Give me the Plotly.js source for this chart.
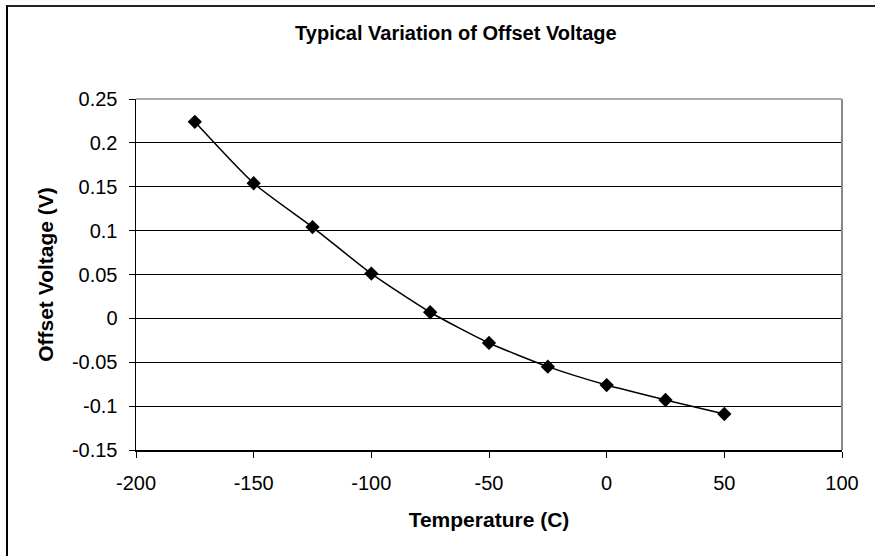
<!DOCTYPE html>
<html>
<head>
<meta charset="utf-8">
<script src="https://cdn.plot.ly/plotly-3.0.1.min.js"></script>
<style>
html,body{margin:0;padding:0;background:#fff;}
#wrap{position:relative;width:875px;height:556px;overflow:hidden;}
#chart{position:absolute;left:0;top:0;width:875px;height:556px;}
#frame{position:absolute;left:6px;top:5px;width:875px;height:556px;border-left:2px solid #000;border-top:2px solid #222;pointer-events:none;}
</style>
</head>
<body>
<div id="wrap"><div id="chart"></div><div id="frame"></div></div>
<script>
const temperature = [-175, -150, -125, -100, -75, -50, -25, 0, 25, 50];
const offsetVoltage = [0.224, 0.154, 0.104, 0.051, 0.007, -0.028, -0.055, -0.076, -0.093, -0.109];
const xTickVals = [-200, -150, -100, -50, 0, 50, 100];
const xTickText = ["-200", "-150", "-100", "-50", "0", "50", "100"];
const yTickVals = [-0.15, -0.1, -0.05, 0, 0.05, 0.1, 0.15, 0.2, 0.25];
const yTickText = ["-0.15", "-0.1", "-0.05", "0", "0.05", "0.1", "0.15", "0.2", "0.25"];

const font = "Liberation Sans, Arial, sans-serif";

Plotly.newPlot('chart', [{
  x: temperature,
  y: offsetVoltage,
  type: 'scatter',
  mode: 'lines+markers',
  line: {color: '#000', width: 1.5, shape: 'spline', smoothing: 0.6},
  marker: {symbol: 'diamond', size: 11, color: '#000'},
  showlegend: false,
  hoverinfo: 'none'
}], {
  width: 875, height: 556,
  margin: {l: 136, r: 33, t: 99, b: 106},
  paper_bgcolor: '#fff', plot_bgcolor: '#fff',
  font: {family: font, color: '#000', size: 20},
  title: {text: '<b>Typical Variation of Offset Voltage</b>', font: {family: font, size: 20, color: '#000'}, x: 0.521, xref: 'container', xanchor: 'center', y: 0.94, yanchor: 'middle'},
  xaxis: {
    range: [-200, 100], tickmode: 'array', tickvals: xTickVals, ticktext: xTickText,
    showgrid: false, zeroline: false, showline: true, linecolor: '#000', linewidth: 1.5,
    ticks: 'outside', ticklen: 6, tickcolor: '#000', tickwidth: 1, ticklabelstandoff: 8,
    tickfont: {family: font, size: 20, color: '#000'},
    title: {text: '<b>Temperature (C)</b>', font: {family: font, size: 21, color: '#000'}, standoff: 20}
  },
  yaxis: {
    range: [-0.15, 0.25], tickmode: 'array', tickvals: yTickVals, ticktext: yTickText,
    showgrid: true, gridcolor: '#000', gridwidth: 1, zeroline: false,
    showline: true, linecolor: '#000', linewidth: 1.5,
    ticks: 'outside', ticklen: 6, tickcolor: '#000', tickwidth: 1, ticklabelstandoff: 7,
    tickfont: {family: font, size: 20, color: '#000'},
    title: {text: '<b>Offset Voltage (V)</b>', font: {family: font, size: 21, color: '#000'}, standoff: 12}
  },
  shapes: [
    {type: 'line', xref: 'paper', yref: 'paper', x0: 1, x1: 1, y0: 0, y1: 1, line: {color: '#888', width: 2}},
    {type: 'line', xref: 'paper', yref: 'paper', x0: 0, x1: 1, y0: 1, y1: 1, line: {color: '#aaa', width: 2}}
  ]
}, {displayModeBar: false, staticPlot: true});
</script>
</body>
</html>
